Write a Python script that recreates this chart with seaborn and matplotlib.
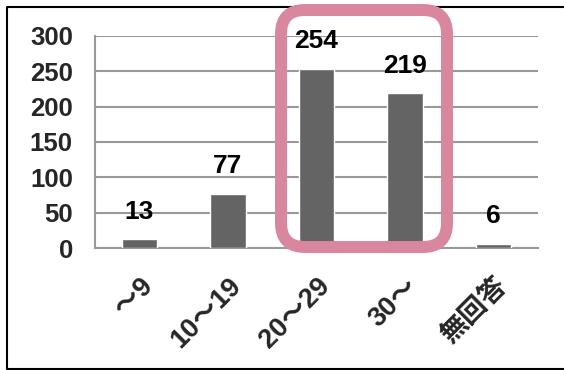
import matplotlib
matplotlib.use("Agg")
import matplotlib.pyplot as plt
import seaborn as sns
import pandas as pd
from matplotlib.patches import FancyBboxPatch
from matplotlib.lines import Line2D

# Respondents by age group
categories = ["～9", "10～19", "20～29", "30～", "無回答"]
counts = [13, 77, 254, 219, 6]
yticks = [0, 50, 100, 150, 200, 250, 300]

sns.set_theme(style="white")
plt.rcParams["font.family"] = ["Liberation Sans", "Noto Sans CJK JP", "DejaVu Sans"]
plt.rcParams["font.weight"] = "bold"

W, H = 564, 370
fig = plt.figure(figsize=(W / 100, H / 100), dpi=100)
ax = fig.add_axes([95 / W, (H - 248) / H, (538 - 95) / W, (248 - 36) / H])

df = pd.DataFrame({"age": categories, "count": counts})
sns.barplot(data=df, x="age", y="count", color="#646464", saturation=1,
            width=0.4, ax=ax, zorder=3)

ax.set_ylim(0, 300)
ax.set_yticks(yticks)
ax.set_yticklabels([str(t) for t in yticks], fontsize=18.5, fontweight="bold")
ax.set_xlabel("")
ax.set_ylabel("")
ax.yaxis.grid(True, color="#999999", linewidth=1.5, zorder=0)
ax.set_axisbelow(True)
for side in ("top", "right"):
    ax.spines[side].set_visible(False)
for side in ("left", "bottom"):
    ax.spines[side].set_color("#999999")
    ax.spines[side].set_linewidth(1.5)
ax.tick_params(axis="y", length=0, pad=16)
ax.tick_params(axis="x", length=0, pad=18)

ax.set_xticks(range(len(categories)))
ax.set_xticklabels(categories, rotation=45, ha="right", va="top",
                   rotation_mode="anchor", fontsize=19.5, fontweight="bold")

for container in ax.containers:
    ax.bar_label(container, labels=[str(v) for v in counts], padding=11,
                 fontsize=19, fontweight="bold", color="black")

# highlight box around the 20～29 and 30～ groups
box = FancyBboxPatch((281 / W, (H - 247) / H), (447 - 281) / W, (247 - 10) / H,
                     boxstyle="round,pad=0,rounding_size=%f" % (24 / W),
                     mutation_aspect=W / H, transform=fig.transFigure,
                     facecolor="none", edgecolor="#D8879F", linewidth=8.6,
                     clip_on=False, zorder=5)
fig.patches.append(box)

# outer frame
fig.lines.append(Line2D([1.01, 7 / W, 7 / W, 1.01],
                        [1 - 7 / H, 1 - 7 / H, 1 - 369 / H, 1 - 369 / H],
                        transform=fig.transFigure, color="black", linewidth=1.5))

fig.savefig("out.png", dpi=100)
